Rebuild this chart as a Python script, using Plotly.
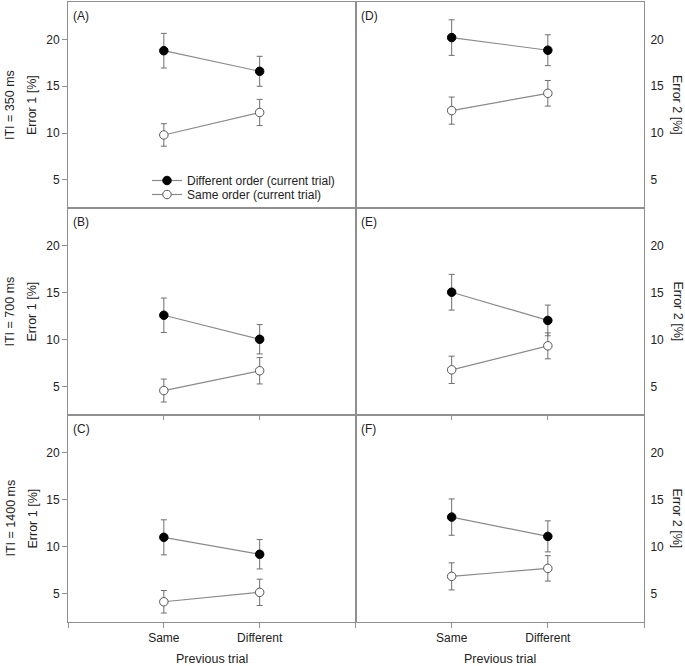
import plotly.graph_objects as go

# ---------------- data ----------------
prev_trial = ["Same", "Different"]
panel_labels = ["(A)", "(B)", "(C)", "(D)", "(E)", "(F)"]
iti_labels = ["ITI = 350 ms", "ITI = 700 ms", "ITI = 1400 ms"]
left_title = "Error 1 [%]"
right_title = "Error 2 [%]"
x_title = "Previous trial"
series_names = ["Different order (current trial)", "Same order (current trial)"]
y_ticks = [5, 10, 15, 20]

# Error 1 (left column)
diff_A = [18.8, 16.6]; diff_A_err = [1.85, 1.6]
same_A = [9.8, 12.2];  same_A_err = [1.2, 1.4]
diff_B = [12.6, 10.05]; diff_B_err = [1.83, 1.56]
same_B = [4.6, 6.7];   same_B_err = [1.22, 1.4]
diff_C = [11.0, 9.2];  diff_C_err = [1.86, 1.56]
same_C = [4.15, 5.15]; same_C_err = [1.2, 1.4]
# Error 2 (right column)
diff_D = [20.2, 18.85]; diff_D_err = [1.9, 1.65]
same_D = [12.4, 14.25]; same_D_err = [1.45, 1.37]
diff_E = [15.05, 12.05]; diff_E_err = [1.9, 1.63]
same_E = [6.8, 9.35];  same_E_err = [1.45, 1.38]
diff_F = [13.15, 11.1]; diff_F_err = [1.93, 1.65]
same_F = [6.85, 7.7];  same_F_err = [1.44, 1.35]

panels = [
    (diff_A, diff_A_err, same_A, same_A_err),
    (diff_B, diff_B_err, same_B, same_B_err),
    (diff_C, diff_C_err, same_C, same_C_err),
    (diff_D, diff_D_err, same_D, same_D_err),
    (diff_E, diff_E_err, same_E, same_E_err),
    (diff_F, diff_F_err, same_F, same_F_err),
]

# ---------------- layout geometry ----------------
W, H = 685, 666
def px(x): return x / W
def py(y): return 1 - y / H

col_dom = [[px(68), px(355.5)], [px(355.5), px(644)]]
row_edges = [2, 208, 415, 622]
row_dom = [[py(row_edges[i + 1]), py(row_edges[i])] for i in range(3)]

FONT = "Liberation Sans, Arial, sans-serif"
TXT = "#222222"
FRAME = "#8f8f8f"
LINE = "#8a8a8a"
ERR = "#6f6f6f"

x_pos = [i + 1 for i in range(len(prev_trial))]
x_tickvals = [0] + x_pos + [len(prev_trial) + 1]
x_ticktext = [""] + prev_trial + [""]

fig = go.Figure()

for k, (d, de, s, se) in enumerate(panels):
    n = k + 1
    xa = "x" if n == 1 else f"x{n}"
    ya = "y" if n == 1 else f"y{n}"
    fig.add_trace(go.Scatter(
        x=x_pos, y=d, mode="lines+markers", name=series_names[0],
        legend="legend", showlegend=(k == 0),
        line=dict(color=LINE, width=1.2),
        marker=dict(size=8.5, color="black", symbol="circle",
                    line=dict(color="black", width=1)),
        error_y=dict(type="data", array=de, visible=True, color=ERR,
                     thickness=1, width=3),
        xaxis=xa, yaxis=ya))
    fig.add_trace(go.Scatter(
        x=x_pos, y=s, mode="lines+markers", name=series_names[1],
        legend="legend2", showlegend=(k == 0),
        line=dict(color=LINE, width=1.2),
        marker=dict(size=8.5, color="white", symbol="circle",
                    line=dict(color="#555555", width=1)),
        error_y=dict(type="data", array=se, visible=True, color=ERR,
                     thickness=1, width=3),
        xaxis=xa, yaxis=ya))

leg_common = dict(xanchor="left", yanchor="top", bgcolor="rgba(0,0,0,0)",
                  font=dict(size=12, color=TXT), itemwidth=30)
layout = dict(
    width=W, height=H,
    margin=dict(l=0, r=0, t=0, b=0),
    paper_bgcolor="white", plot_bgcolor="white",
    font=dict(family=FONT, size=12, color=TXT),
    showlegend=True,
    legend=dict(x=px(147), y=py(166), **leg_common),
    legend2=dict(x=px(147), y=py(180), **leg_common),
)

for k in range(6):
    n = k + 1
    col = k // 3
    row = k % 3
    xkey = "xaxis" if n == 1 else f"xaxis{n}"
    ykey = "yaxis" if n == 1 else f"yaxis{n}"
    xa = dict(domain=col_dom[col], anchor=("y" if n == 1 else f"y{n}"),
              range=[0, len(prev_trial) + 1], showgrid=False, zeroline=False,
              showline=True, mirror=True, linecolor=FRAME, linewidth=1,
              tickfont=dict(size=12, color=TXT), automargin=False)
    if row == 2:
        xa.update(tickvals=x_tickvals, ticktext=x_ticktext, ticks="outside",
                  ticklen=5, tickcolor=FRAME)
    elif row == 1:
        xa.update(tickvals=x_pos, showticklabels=False, ticks="outside",
                  ticklen=4, tickcolor=FRAME)
    else:
        xa.update(showticklabels=False, ticks="")
    ya = dict(domain=row_dom[row], anchor=("x" if n == 1 else f"x{n}"),
              range=[2, 24], tickvals=y_ticks, showgrid=False, zeroline=False,
              showline=True, mirror=True, linecolor=FRAME, linewidth=1,
              tickfont=dict(size=12, color=TXT), automargin=False)
    if col == 0:
        ya.update(side="left", ticks="outside", ticklen=5, tickcolor=FRAME)
    else:
        ya.update(side="right", ticks="", ticklabelstandoff=3)
    layout[xkey] = xa
    layout[ykey] = ya

# small left-edge tick marks of the right-hand panels
for k in range(3, 6):
    n = k + 1
    m = n + 3
    layout[f"yaxis{m}"] = dict(overlaying=f"y{n}", anchor=f"x{n}", side="left",
                               range=[2, 24], tickvals=y_ticks, showticklabels=False,
                               ticks="outside", ticklen=4, tickcolor=FRAME,
                               showgrid=False, zeroline=False, showline=False)

annotations = []
for k, lab in enumerate(panel_labels):
    col = k // 3
    row = k % 3
    x0 = 71 if col == 0 else 359
    annotations.append(dict(text=lab, x=px(x0), y=py(row_edges[row] + 5),
                            xref="paper", yref="paper", xanchor="left",
                            yanchor="top", showarrow=False,
                            font=dict(size=12, color=TXT)))
for row in range(3):
    yc = py((row_edges[row] + row_edges[row + 1]) / 2)
    annotations.append(dict(text=iti_labels[row], x=px(10), y=yc, xref="paper",
                            yref="paper", textangle=-90, showarrow=False,
                            xanchor="center", yanchor="middle",
                            font=dict(size=12.5, color=TXT)))
    annotations.append(dict(text=left_title, x=px(32), y=yc, xref="paper",
                            yref="paper", textangle=-90, showarrow=False,
                            xanchor="center", yanchor="middle",
                            font=dict(size=12.5, color=TXT)))
    annotations.append(dict(text=right_title, x=px(677), y=yc, xref="paper",
                            yref="paper", textangle=90, showarrow=False,
                            xanchor="center", yanchor="middle",
                            font=dict(size=12.5, color=TXT)))
for col in range(2):
    xc = (col_dom[col][0] + col_dom[col][1]) / 2
    annotations.append(dict(text=x_title, x=xc, y=py(659), xref="paper",
                            yref="paper", showarrow=False, xanchor="center",
                            yanchor="middle", font=dict(size=12.5, color=TXT)))
layout["annotations"] = annotations

fig.update_layout(**layout)
fig.write_html(
    "out.html",
    config={"displayModeBar": False},
    post_script="document.body.style.margin='0';document.body.style.overflow='hidden';",
)
